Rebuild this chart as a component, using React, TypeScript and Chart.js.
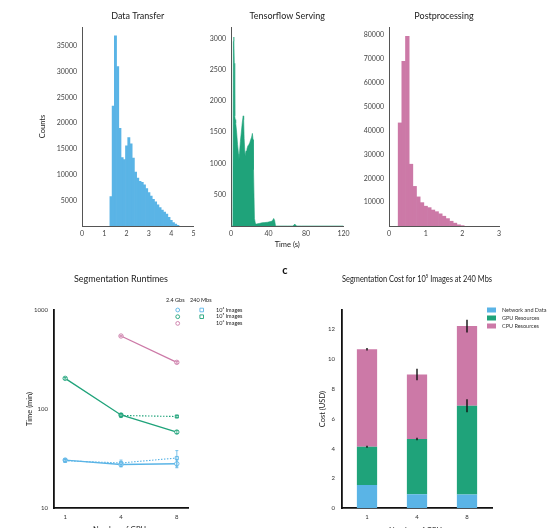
import React, { useEffect, useRef } from "react";
import { Chart, registerables } from "chart.js";

Chart.register(...registerables);

const FONT = "Lato, 'Open Sans', 'DejaVu Sans', sans-serif";
const BLUE = "#5AB4E6";
const GREEN = "#1FA37A";
const PINK = "#CC79A7";
const CW = 553;
const CH = 540;

// ---------- Panel: Data Transfer ----------
const transferBins = [1.3, 1.4, 1.5, 1.6, 1.7, 1.8, 1.9, 2.0, 2.1, 2.2, 2.3, 2.4, 2.5, 2.6, 2.7, 2.8, 2.9, 3.0, 3.1, 3.2, 3.3, 3.4, 3.5, 3.6, 3.7, 3.8, 3.9, 4.0, 4.1, 4.2, 4.3];
const transferCounts = [5700, 23300, 37000, 31000, 19000, 13300, 12900, 15600, 17200, 16000, 13200, 10500, 9300, 8700, 8500, 8000, 7300, 6500, 5800, 5200, 4700, 4100, 3600, 3100, 2700, 2300, 1700, 1100, 650, 350, 150];
const transferXTicks = [0, 1, 2, 3, 4, 5];
const transferYTicks = [5000, 10000, 15000, 20000, 25000, 30000, 35000];

// ---------- Panel: Tensorflow Serving ----------
const servingTimes = [0, 2, 2.5, 3, 3.5, 4, 4.5, 5, 6, 7, 8, 8.5, 9, 10, 11, 12, 13, 13.5, 14, 15, 16, 17, 18, 19, 20, 21, 22, 22.8, 23.5, 24, 25, 26, 27, 30, 33, 36, 39, 42, 44, 45.5, 46.5, 47.5, 50, 60, 66, 68, 70, 75, 120];
const servingCounts = [0, 0, 2950, 3020, 2600, 1760, 1700, 1650, 1500, 1300, 1150, 1060, 1150, 1350, 1500, 1650, 1760, 1700, 1400, 1120, 1200, 1230, 1280, 1300, 1330, 1380, 1420, 1480, 1380, 900, 120, 40, 30, 40, 50, 55, 60, 70, 80, 120, 90, 0, 0, 0, 0, 30, 0, 0, 0];
const servingXTicks = [0, 40, 80, 120];
const servingYTicks = [500, 1000, 1500, 2000, 2500, 3000];

// ---------- Panel: Postprocessing ----------
const postBins = [0.3, 0.4, 0.5, 0.6, 0.7, 0.8, 0.9, 1.0, 1.1, 1.2, 1.3, 1.4, 1.5, 1.6, 1.7, 1.8, 1.9, 2.0];
const postCounts = [43200, 69000, 79500, 25900, 16600, 12200, 9800, 8300, 7700, 6700, 6000, 5100, 4100, 3100, 2000, 1200, 500, 150];
const postXTicks = [0, 1, 2, 3];
const postYTicks = [10000, 20000, 30000, 40000, 50000, 60000, 70000, 80000];

// ---------- Panel: Segmentation Runtimes ----------
const gpuLabels = ["1", "4", "8"];
const runtimeYTicks = [10, 100, 1000];
const speedLabels = ["2.4 Gbs", "240 Mbs"];
const sizeLabels = ["10\u2074 Images", "10\u2075 Images", "10\u2076 Images"];
const rtFast1e4 = [30.5, 27.5, 28];
const rtFast1e4Err = [1, 1.5, 2.5];
const rtSlow1e4 = [30, 28.5, 32];
const rtSlow1e4Err = [1, 2, 6];
const rtFast1e5 = [204, 87, 58.5];
const rtFast1e5Err = [4, 3, 2];
const rtSlow1e5 = [null, 86, 84];
const rtSlow1e5Err = [0, 4, 2];
const rtFast1e6 = [null, 546, 296];
const rtFast1e6Err = [0, 8, 6];

// ---------- Panel: Segmentation Cost ----------
const costLabels = ["Network and Data", "GPU Resources", "CPU Resources"];
const costNetwork = [1.56, 0.94, 0.92];
const costGpu = [2.57, 3.7, 5.96];
const costCpu = [6.53, 4.34, 5.34];
const costGpuErr = [0.03, 0.05, 0.4];
const costTotalErr = [0.05, 0.35, 0.4];
const costYTicks = [0, 2, 4, 6, 8, 10, 12];

type Area = { l: number; t: number; r: number; b: number };

function layoutFor(a: Area, wy: number, hx: number, titleSize: number, titleCenter: number) {
  const lh = titleSize * 1.2;
  const pb = a.t - lh / 2 - titleCenter;
  const top = titleCenter - lh / 2;
  return {
    padding: { left: a.l - wy, right: CW - a.r, top, bottom: CH - a.b - hx },
    titlePad: { top: 0, bottom: pb },
  };
}

function fixedTicks(values: number[]) {
  return (scale: any) => {
    scale.ticks = values.map((v) => ({ value: v }));
  };
}

type TopSpec = {
  title: string;
  xs: number[];
  ys: number[];
  color: string;
  kind: "bar" | "area";
  area: Area;
  xMax: number;
  yMax: number;
  xTicks: number[];
  yTicks: number[];
  yTitle?: string;
  xTitle?: string;
};

function makeTop(canvas: HTMLCanvasElement, p: TopSpec) {
  const wy = 45;
  const hx = 24;
  const L = layoutFor(p.area, wy, hx, 9, 16);
  const points = p.xs.map((x, i) => ({ x, y: p.ys[i] }));
  const dataset: any =
    p.kind === "bar"
      ? {
          type: "bar",
          data: points,
          backgroundColor: p.color,
          borderWidth: 0,
          barPercentage: 1,
          categoryPercentage: 1,
        }
      : {
          type: "line",
          data: points,
          fill: "origin",
          backgroundColor: p.color,
          borderColor: p.color,
          borderWidth: 0.6,
          pointRadius: 0,
          tension: 0,
        };
  return new Chart(canvas, {
    type: p.kind === "bar" ? "bar" : "line",
    data: { datasets: [dataset] },
    options: {
      responsive: false,
      animation: false,
      events: [],
      layout: { padding: L.padding },
      plugins: {
        legend: { display: false },
        tooltip: { enabled: false },
        title: {
          display: true,
          text: p.title,
          fullSize: false,
          font: { size: 9, family: FONT, weight: "normal" },
          color: "#222",
          padding: L.titlePad,
        },
      },
      scales: {
        x: {
          type: "linear",
          min: 0,
          max: p.xMax,
          offset: false,
          grid: { display: false, drawTicks: false, offset: false },
          border: { display: true, color: "#555", width: 1 },
          afterBuildTicks: fixedTicks(p.xTicks),
          afterFit: (s: any) => {
            s.height = hx;
          },
          ticks: {
            font: { size: 7, family: FONT },
            color: "#444",
            padding: 4,
            maxRotation: 0,
            autoSkip: false,
            callback: (v: any) => String(v),
          },
          title: p.xTitle
            ? {
                display: true,
                text: p.xTitle,
                font: { size: 7.5, family: FONT },
                color: "#222",
                padding: { top: 0, bottom: 0.5 },
              }
            : { display: false },
        },
        y: {
          type: "linear",
          min: 0,
          max: p.yMax,
          grid: { display: false, drawTicks: false },
          border: { display: true, color: "#555", width: 1 },
          afterBuildTicks: fixedTicks(p.yTicks),
          afterFit: (s: any) => {
            s.width = wy;
          },
          ticks: {
            font: { size: 7, family: FONT },
            color: "#444",
            padding: 5,
            autoSkip: false,
            callback: (v: any) => String(v),
          },
          title: p.yTitle
            ? {
                display: true,
                text: p.yTitle,
                font: { size: 7.5, family: FONT },
                color: "#222",
                padding: { top: 1.5, bottom: 0 },
              }
            : { display: false },
        },
      },
    } as any,
  });
}

const errorBarPlugin = {
  id: "rtErrors",
  afterDatasetsDraw(chart: any) {
    const { ctx } = chart;
    const ys = chart.scales.y;
    chart.data.datasets.forEach((ds: any, di: number) => {
      const meta = chart.getDatasetMeta(di);
      (ds.errors || []).forEach((e: number, i: number) => {
        const v = ds.data[i].y;
        if (v == null || !e) return;
        const x = meta.data[i].x;
        const y1 = ys.getPixelForValue(v - e);
        const y2 = ys.getPixelForValue(v + e);
        ctx.save();
        ctx.strokeStyle = ds.borderColor;
        ctx.lineWidth = 0.8;
        ctx.beginPath();
        ctx.moveTo(x, y1);
        ctx.lineTo(x, y2);
        ctx.moveTo(x - 1.5, y1);
        ctx.lineTo(x + 1.5, y1);
        ctx.moveTo(x - 1.5, y2);
        ctx.lineTo(x + 1.5, y2);
        ctx.stroke();
        ctx.restore();
      });
    });
  },
};

function drawMarker(ctx: any, style: string, x: number, y: number, color: string) {
  ctx.save();
  ctx.strokeStyle = color;
  ctx.fillStyle = "#fff";
  ctx.lineWidth = 0.9;
  ctx.beginPath();
  if (style === "rect") {
    ctx.rect(x - 1.8, y - 1.8, 3.6, 3.6);
  } else {
    ctx.arc(x, y, 1.9, 0, Math.PI * 2);
  }
  ctx.fill();
  ctx.stroke();
  ctx.restore();
}

const runtimeLegendPlugin = {
  id: "rtLegend",
  afterDraw(chart: any) {
    const { ctx, chartArea: a } = chart;
    ctx.save();
    ctx.font = `5.5px ${FONT}`;
    ctx.fillStyle = "#222";
    ctx.textBaseline = "middle";
    ctx.textAlign = "center";
    const cx = a.right - 10.3;
    const sx = a.right + 13.7;
    const tx = a.right + 28;
    ctx.fillText(speedLabels[0], a.right - 12.7, a.top - 10);
    ctx.fillText(speedLabels[1], a.right + 12.8, a.top - 10);
    ctx.textAlign = "left";
    sizeLabels.forEach((lab, i) => {
      const y = a.top + i * 6.7;
      const fast = chart.data.datasets.find((d: any) => d.group === i && d.speed === 0);
      const slow = chart.data.datasets.find((d: any) => d.group === i && d.speed === 1);
      if (fast) drawMarker(ctx, fast.pointStyle, cx, y, fast.borderColor);
      if (slow) drawMarker(ctx, slow.pointStyle, sx, y, slow.borderColor);
      ctx.fillStyle = "#222";
      ctx.fillText(lab, tx, y);
    });
    ctx.restore();
  },
};

function makeRuntimes(canvas: HTMLCanvasElement) {
  const area: Area = { l: 54, t: 310, r: 188, b: 508 };
  const wy = 40;
  const hx = 28;
  const L = layoutFor(area, wy, hx, 9, 279);
  const idx = gpuLabels.map((_, i) => i);
  const series = (
    vals: (number | null)[],
    errs: number[],
    color: string,
    speed: number,
    group: number
  ) => ({
    data: idx.map((x, i) => ({ x, y: vals[i] })),
    errors: errs,
    borderColor: color,
    backgroundColor: "#fff",
    pointBackgroundColor: "#fff",
    pointBorderColor: color,
    pointStyle: speed === 0 ? "circle" : "rect",
    pointRadius: 2.2,
    pointBorderWidth: 0.9,
    borderWidth: speed === 0 ? 1.3 : 1.1,
    borderDash: speed === 0 ? [] : [1.5, 1.5],
    tension: 0,
    fill: false,
    speed,
    group,
  });
  return new Chart(canvas, {
    type: "line",
    data: {
      datasets: [
        series(rtSlow1e4, rtSlow1e4Err, BLUE, 1, 0),
        series(rtFast1e4, rtFast1e4Err, BLUE, 0, 0),
        series(rtSlow1e5, rtSlow1e5Err, GREEN, 1, 1),
        series(rtFast1e5, rtFast1e5Err, GREEN, 0, 1),
        series(rtFast1e6, rtFast1e6Err, PINK, 0, 2),
      ] as any,
    },
    plugins: [errorBarPlugin, runtimeLegendPlugin],
    options: {
      responsive: false,
      animation: false,
      events: [],
      layout: { padding: L.padding },
      plugins: {
        legend: { display: false },
        tooltip: { enabled: false },
        title: {
          display: true,
          text: "Segmentation Runtimes",
          fullSize: false,
          font: { size: 9, family: FONT, weight: "normal" },
          color: "#222",
          padding: L.titlePad,
        },
      },
      scales: {
        x: {
          type: "linear",
          min: -0.2,
          max: 2.2,
          grid: { display: false, drawTicks: false },
          border: { display: true, color: "#111", width: 1.8 },
          afterBuildTicks: fixedTicks(idx),
          afterFit: (s: any) => {
            s.height = hx;
          },
          ticks: {
            font: { size: 6, family: FONT },
            color: "#333",
            padding: 5,
            maxRotation: 0,
            autoSkip: false,
            callback: (v: any) => gpuLabels[v] ?? "",
          },
          title: {
            display: true,
            text: "Number of GPUs",
            font: { size: 7.5, family: FONT },
            color: "#222",
            padding: { top: 0, bottom: 1.5 },
          },
        },
        y: {
          type: "logarithmic",
          min: 10,
          max: 1000,
          grid: { display: false, drawTicks: false },
          border: { display: true, color: "#111", width: 1.8 },
          afterBuildTicks: fixedTicks(runtimeYTicks),
          afterFit: (s: any) => {
            s.width = wy;
          },
          ticks: {
            font: { size: 6, family: FONT },
            color: "#333",
            padding: 6,
            autoSkip: false,
            callback: (v: any) => String(v),
          },
          title: {
            display: true,
            text: "Time (min)",
            font: { size: 7.5, family: FONT },
            color: "#222",
            padding: { top: 11.5, bottom: 0 },
          },
        },
      },
    } as any,
  });
}

const costExtrasPlugin = {
  id: "costExtras",
  afterDatasetsDraw(chart: any) {
    const { ctx, chartArea: a } = chart;
    const xs = chart.scales.x;
    const ys = chart.scales.y;
    ctx.save();
    ctx.strokeStyle = "#111";
    ctx.lineWidth = 1.4;
    gpuLabels.forEach((_, i) => {
      const x = xs.getPixelForValue(i);
      const gpuTop = costNetwork[i] + costGpu[i];
      const total = gpuTop + costCpu[i];
      [
        [gpuTop, costGpuErr[i]],
        [total, costTotalErr[i]],
      ].forEach(([v, e]) => {
        ctx.beginPath();
        ctx.moveTo(x, ys.getPixelForValue(v - e) + 0.5);
        ctx.lineTo(x, ys.getPixelForValue(v + e) - 0.5);
        ctx.stroke();
      });
    });
    ctx.restore();
    // legend
    ctx.save();
    ctx.font = `5.5px ${FONT}`;
    ctx.textBaseline = "middle";
    ctx.textAlign = "left";
    chart.data.datasets.forEach((ds: any, i: number) => {
      const y = a.top + i * 8;
      ctx.fillStyle = ds.backgroundColor;
      ctx.fillRect(a.right - 5, y - 2.5, 9, 5);
      ctx.fillStyle = "#333";
      ctx.fillText(ds.label, a.right + 10, y);
    });
    ctx.restore();
    // panel letter
    ctx.save();
    ctx.font = `bold 11px ${FONT}`;
    ctx.fillStyle = "#111";
    ctx.textBaseline = "middle";
    ctx.textAlign = "center";
    ctx.fillText("c", a.left - 57, a.top - 40);
    ctx.restore();
  },
};

function makeCost(canvas: HTMLCanvasElement) {
  const area: Area = { l: 342, t: 310, r: 492, b: 508.3 };
  const wy = 30;
  const hx = 28;
  const L = layoutFor(area, wy, hx, 9, 279);
  return new Chart(canvas, {
    type: "bar",
    data: {
      labels: gpuLabels,
      datasets: [
        { label: costLabels[0], data: costNetwork, backgroundColor: BLUE, borderWidth: 0 },
        { label: costLabels[1], data: costGpu, backgroundColor: GREEN, borderWidth: 0 },
        { label: costLabels[2], data: costCpu, backgroundColor: PINK, borderWidth: 0 },
      ],
    },
    plugins: [costExtrasPlugin],
    options: {
      responsive: false,
      animation: false,
      events: [],
      layout: { padding: L.padding },
      datasets: { bar: { categoryPercentage: 0.45, barPercentage: 0.9 } },
      plugins: {
        legend: { display: false },
        tooltip: { enabled: false },
        title: {
          display: true,
          text: "Segmentation Cost for 10\u2075 Images at 240 Mbs",
          fullSize: false,
          font: { size: 9, family: FONT, weight: "normal" },
          color: "#222",
          padding: L.titlePad,
        },
      },
      scales: {
        x: {
          stacked: true,
          grid: { display: false, drawTicks: false },
          border: { display: true, color: "#111", width: 1.8 },
          afterFit: (s: any) => {
            s.height = hx;
          },
          ticks: {
            font: { size: 6, family: FONT },
            color: "#333",
            padding: 5,
            maxRotation: 0,
          },
          title: {
            display: true,
            text: "Number of GPUs",
            font: { size: 7.5, family: FONT },
            color: "#222",
            padding: { top: 0, bottom: 1.5 },
          },
        },
        y: {
          stacked: true,
          min: 0,
          max: 13.3,
          grid: { display: false, drawTicks: false },
          border: { display: true, color: "#111", width: 1.8 },
          afterBuildTicks: fixedTicks(costYTicks),
          afterFit: (s: any) => {
            s.width = wy;
          },
          ticks: {
            font: { size: 6, family: FONT },
            color: "#333",
            padding: 7,
            autoSkip: false,
            callback: (v: any) => String(v),
          },
          title: {
            display: true,
            text: "Cost (USD)",
            font: { size: 7.5, family: FONT },
            color: "#222",
            padding: { top: 6.5, bottom: 0 },
          },
        },
      },
    } as any,
  });
}

const makeTransfer = (c: HTMLCanvasElement) =>
  makeTop(c, {
    title: "Data Transfer",
    xs: transferBins,
    ys: transferCounts,
    color: BLUE,
    kind: "bar",
    area: { l: 82, t: 27, r: 193.5, b: 226 },
    xMax: 5,
    yMax: 38700,
    xTicks: transferXTicks,
    yTicks: transferYTicks,
    yTitle: "Counts",
  });

const makeServing = (c: HTMLCanvasElement) =>
  makeTop(c, {
    title: "Tensorflow Serving",
    xs: servingTimes,
    ys: servingCounts,
    color: GREEN,
    kind: "area",
    area: { l: 231, t: 27, r: 343.5, b: 226 },
    xMax: 120,
    yMax: 3180,
    xTicks: servingXTicks,
    yTicks: servingYTicks,
    xTitle: "Time (s)",
  });

const makePost = (c: HTMLCanvasElement) =>
  makeTop(c, {
    title: "Postprocessing",
    xs: postBins,
    ys: postCounts,
    color: PINK,
    kind: "bar",
    area: { l: 389, t: 27, r: 499, b: 226 },
    xMax: 3,
    yMax: 83400,
    xTicks: postXTicks,
    yTicks: postYTicks,
  });

function ChartCanvas({ make }: { make: (c: HTMLCanvasElement) => Chart }) {
  const ref = useRef<HTMLCanvasElement>(null);
  useEffect(() => {
    const ch = make(ref.current as HTMLCanvasElement);
    return () => ch.destroy();
  }, [make]);
  return (
    <canvas
      ref={ref}
      width={CW}
      height={CH}
      style={{ position: "absolute", left: 0, top: 0, width: CW, height: CH }}
    />
  );
}

export default function App() {
  return (
    <div
      style={{
        position: "absolute",
        left: 0,
        top: 0,
        width: 553,
        height: 528,
        overflow: "hidden",
        background: "#fff",
      }}
    >
      <ChartCanvas make={makeTransfer} />
      <ChartCanvas make={makeServing} />
      <ChartCanvas make={makePost} />
      <ChartCanvas make={makeRuntimes} />
      <ChartCanvas make={makeCost} />
    </div>
  );
}
